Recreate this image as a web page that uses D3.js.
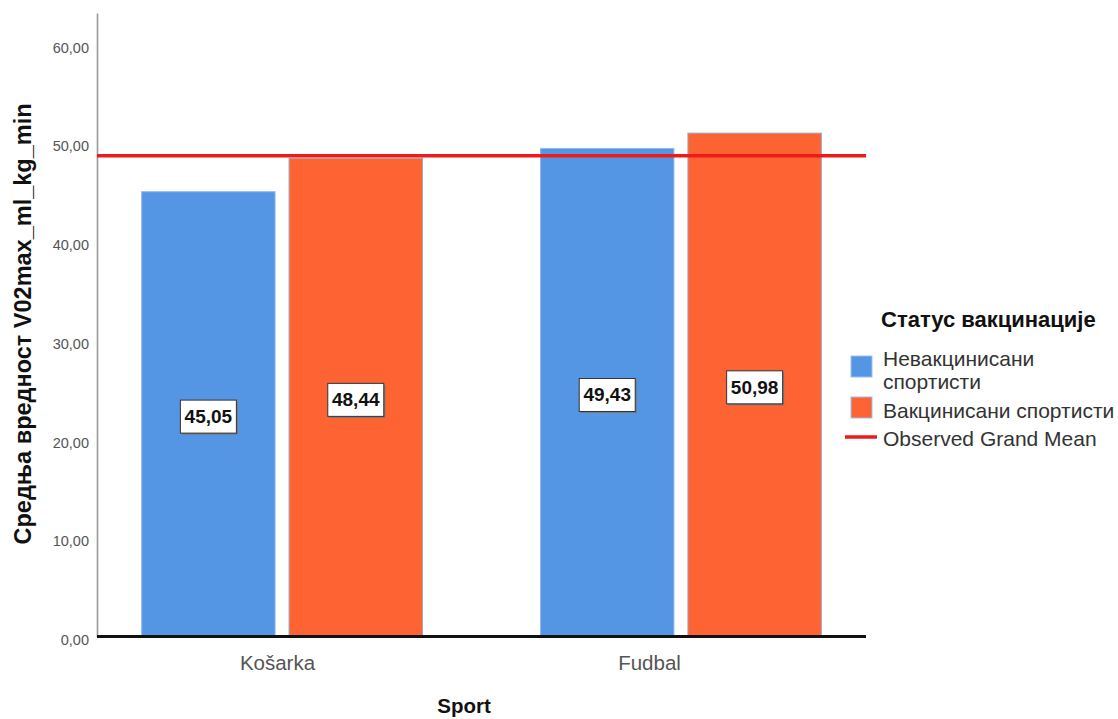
<!DOCTYPE html>
<html><head><meta charset="utf-8">
<script src="https://cdn.jsdelivr.net/npm/d3@7/dist/d3.min.js"></script>
<style>body{margin:0;background:#fff}svg{display:block;font-family:"Liberation Sans",Arial,sans-serif}</style>
</head><body><svg id="c" width="1118" height="719"></svg>
<script>
const categories = ["Košarka", "Fudbal"];
const seriesNames = ["Невакцинисани спортисти", "Вакцинисани спортисти"];
const unvaccinated = [45.05, 49.43];
const vaccinated = [48.44, 50.98];
const grandMean = 48.7;
const yTicks = [0, 10, 20, 30, 40, 50, 60];
const legendTitle = "Статус вакцинације";
const legendLabels = [["Невакцинисани", "спортисти"], ["Вакцинисани спортисти"], ["Observed Grand Mean"]];
const yTitle = "Средња вредност V02max_ml_kg_min";
const xTitle = "Sport";

const colors = ["#5596e4", "#fe6333"];
const svg = d3.select("#c");
const fmt = v => d3.format(".2f")(v).replace(".", ",");

const x = d3.scaleBand().domain(categories).range([97, 866]).paddingInner(0.296).paddingOuter(0.112);
const xi = d3.scaleBand().domain([0, 1]).range([0, x.bandwidth()]).paddingInner(0.095);
const y = d3.scaleLinear().domain([0, 63.15]).range([636.5, 13]);
const xLab = d3.scalePoint().domain(categories).range([277, 649]);

const rows = categories.map((c, i) => ({c, vals: [unvaccinated[i], vaccinated[i]]}));

// bars
const g = svg.append("g");
rows.forEach(r => {
  r.vals.forEach((v, k) => {
    g.append("rect")
      .attr("x", x(r.c) + xi(k)).attr("width", xi.bandwidth())
      .attr("y", y(v)).attr("height", y(0) - y(v))
      .attr("fill", colors[k])
      .attr("stroke", k === 0 ? "#8fbaf0" : "#9aa6b8").attr("stroke-width", 1);
  });
});

// y axis
const yAx = svg.append("g").attr("transform", "translate(97,0)")
  .call(d3.axisLeft(y).tickValues(yTicks).tickSize(0).tickPadding(8).tickFormat(fmt));
yAx.select(".domain").attr("stroke", "#9a9a9a").attr("stroke-width", 1.6);
yAx.selectAll("text").attr("font-size", 14.5).attr("fill", "#555").attr("dy", "0.55em")
  .attr("font-family", "'Liberation Sans',Arial,sans-serif");

// baseline
svg.append("line").attr("x1", 97).attr("x2", 866).attr("y1", y(0)).attr("y2", y(0))
  .attr("stroke", "#111").attr("stroke-width", 3);

// x axis labels
const xAx = svg.append("g").attr("transform", `translate(0,${y(0)})`)
  .call(d3.axisBottom(xLab).tickSize(0));
xAx.select(".domain").remove();
xAx.selectAll("text").attr("y", 33.5).attr("dy", null).attr("font-size", 20.5).attr("fill", "#555")
  .attr("font-family", "'Liberation Sans',Arial,sans-serif");

// grand mean line
svg.append("line").attr("x1", 97).attr("x2", 866).attr("y1", y(grandMean)).attr("y2", y(grandMean))
  .attr("stroke", "#ee1b1b").attr("stroke-width", 3.5);

// value labels
rows.forEach(r => {
  r.vals.forEach((v, k) => {
    const cx = x(r.c) + xi(k) + xi.bandwidth() / 2;
    const cy = (y(v) + y(0)) / 2 + 2.5;
    const lg = svg.append("g");
    lg.append("rect").attr("x", cx - 28 + 1.5).attr("y", cy - 16.5 + 1.5).attr("width", 56).attr("height", 33)
      .attr("fill", "#777");
    lg.append("rect").attr("x", cx - 28).attr("y", cy - 16.5).attr("width", 56).attr("height", 33)
      .attr("fill", "#fff").attr("stroke", "#333").attr("stroke-width", 1);
    lg.append("text").attr("x", cx).attr("y", cy).attr("text-anchor", "middle")
      .attr("dominant-baseline", "central").attr("font-size", 19).attr("font-weight", "bold")
      .attr("fill", "#111").text(fmt(v));
  });
});

// axis titles
svg.append("text").attr("transform", "translate(31,324) rotate(-90)").attr("text-anchor", "middle")
  .attr("font-size", 23.5).attr("font-weight", "bold").attr("fill", "#111").text(yTitle);
svg.append("text").attr("x", 464).attr("y", 713).attr("text-anchor", "middle")
  .attr("font-size", 20.5).attr("font-weight", "bold").attr("fill", "#111").text(xTitle);

// legend
const L = svg.append("g");
L.append("text").attr("x", 881).attr("y", 327).attr("font-size", 22).attr("font-weight", "bold")
  .attr("fill", "#111").text(legendTitle);
[356, 397].forEach((yy, k) => {
  L.append("rect").attr("x", 851).attr("y", yy).attr("width", 21).attr("height", 21)
    .attr("fill", colors[k]).attr("stroke", "#9ec0ee").attr("stroke-width", 1);
});
L.append("line").attr("x1", 845).attr("x2", 877).attr("y1", 437).attr("y2", 437)
  .attr("stroke", "#ee1b1b").attr("stroke-width", 3.5);
const ly = [[366, 389], [418], [445.5]];
legendLabels.forEach((lines, k) => {
  lines.forEach((s, j) => {
    L.append("text").attr("x", 883).attr("y", ly[k][j]).attr("font-size", 21).attr("fill", "#333").text(s);
  });
});
</script></body></html>
